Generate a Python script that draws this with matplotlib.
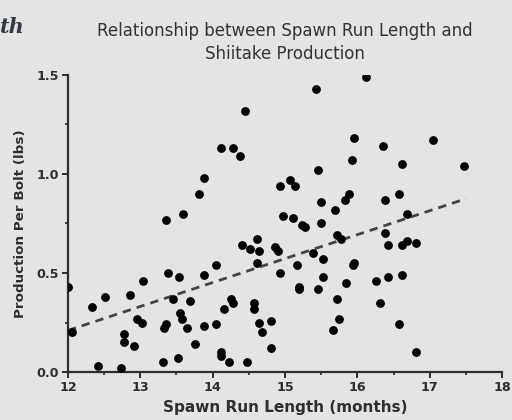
import matplotlib
matplotlib.use("Agg")
import matplotlib.pyplot as plt
from matplotlib.ticker import MultipleLocator, FormatStrFormatter

# spawn run length (months) and production per bolt (lbs)
months = [15.43, 14.45, 14.11, 14.28, 14.38, 15.46, 13.88, 15.07, 15.14, 14.93,
          13.81, 15.50, 15.69, 13.59, 14.97, 15.11, 16.12, 15.96, 16.35, 17.04,
          15.92, 16.62, 17.47, 15.89, 15.83, 16.38, 16.58, 16.69, 13.35, 13.38,
          13.53, 13.03, 12.00, 12.51, 12.86, 12.33, 13.45, 13.69, 13.55, 13.58,
          12.96, 13.02, 12.05, 13.36, 13.33, 12.77, 12.77, 12.91, 13.65, 13.75,
          12.41, 12.73, 13.32, 13.52, 15.23, 15.28, 15.50, 15.72, 14.61, 14.40,
          14.51, 14.64, 14.86, 14.91, 15.39, 15.53, 14.61, 15.16, 14.04, 13.88,
          14.93, 15.53, 15.20, 15.20, 15.46, 15.72, 14.25, 14.28, 14.15, 14.57,
          14.57, 15.75, 13.88, 14.04, 14.64, 14.68, 14.80, 15.66, 14.11, 14.12,
          14.22, 14.48, 14.80, 15.77, 16.38, 16.42, 16.62, 16.69, 16.81, 15.94,
          15.96, 15.85, 16.26, 16.42, 16.62, 16.32, 16.58, 16.81]
production = [1.43, 1.32, 1.13, 1.13, 1.09, 1.02, 0.98, 0.97, 0.94, 0.94,
              0.90, 0.86, 0.82, 0.80, 0.79, 0.78, 1.49, 1.18, 1.14, 1.17,
              1.07, 1.05, 1.04, 0.90, 0.87, 0.87, 0.90, 0.80, 0.77, 0.50,
              0.48, 0.46, 0.43, 0.38, 0.39, 0.33, 0.37, 0.36, 0.30, 0.27,
              0.27, 0.25, 0.20, 0.24, 0.22, 0.19, 0.15, 0.13, 0.22, 0.14,
              0.03, 0.02, 0.05, 0.07, 0.74, 0.73, 0.75, 0.69, 0.67, 0.64,
              0.62, 0.61, 0.63, 0.61, 0.60, 0.57, 0.55, 0.54, 0.54, 0.49,
              0.50, 0.48, 0.43, 0.42, 0.42, 0.37, 0.37, 0.35, 0.32, 0.35,
              0.32, 0.27, 0.23, 0.24, 0.25, 0.20, 0.26, 0.21, 0.10, 0.08,
              0.05, 0.05, 0.12, 0.67, 0.70, 0.64, 0.64, 0.66, 0.65, 0.54,
              0.55, 0.45, 0.46, 0.48, 0.49, 0.35, 0.24, 0.10]

# dashed trend line end points
trend_x = [12.0, 17.5]
trend_y = [0.21, 0.875]

bg = "#e4e4e4"
ink = "#2e2e2e"
sans = "DejaVu Sans"

fig = plt.figure(figsize=(5.12, 4.2), dpi=100, facecolor=bg)
ax = fig.add_axes([68 / 512, 1 - 372 / 420, 434 / 512, 297 / 420])
ax.set_facecolor(bg)

ax.scatter(months, production, s=40, color="black", zorder=3, linewidths=0)
ax.plot(trend_x, trend_y, color="#444444", lw=2.0, dashes=(3, 2.2), zorder=2)

ax.set_xlim(12, 18)
ax.set_ylim(0, 1.5)
ax.xaxis.set_major_locator(MultipleLocator(1))
ax.xaxis.set_minor_locator(MultipleLocator(0.5))
ax.yaxis.set_major_locator(MultipleLocator(0.5))
ax.yaxis.set_minor_locator(MultipleLocator(0.25))
ax.yaxis.set_major_formatter(FormatStrFormatter("%.1f"))

for side in ["top", "right"]:
    ax.spines[side].set_visible(False)
for side in ["left", "bottom"]:
    ax.spines[side].set_color(ink)
    ax.spines[side].set_linewidth(1.6)
    ax.spines[side].set_clip_on(False)

ax.tick_params(which="major", length=4, width=1.4, color=ink, labelcolor=ink, pad=2.5)
ax.tick_params(which="minor", length=2.5, width=1.2, color=ink)
for lab in ax.get_xticklabels() + ax.get_yticklabels():
    lab.set_fontfamily(sans)
    lab.set_fontweight("bold")
    lab.set_fontsize(9.2)

ax.set_xlabel("Spawn Run Length (months)", fontfamily=sans,
              fontweight="bold", fontsize=11, color=ink, labelpad=4)
ax.set_ylabel("Production Per Bolt (lbs)", fontfamily=sans,
              fontweight="bold", fontsize=9.7, color=ink, labelpad=7)

fig.text(285 / 512, 1 - 22 / 420, "Relationship between Spawn Run Length and\nShiitake Production",
         ha="center", va="top", fontfamily=sans, fontsize=12,
         color="#333333", linespacing=1.35)
fig.text(0.0, 1 - 27 / 420, "th", ha="left", va="center", fontfamily="DejaVu Serif",
         style="italic", fontweight="bold", fontsize=15, color="#333a44")

fig.savefig("out.png", dpi=100, facecolor=bg)
